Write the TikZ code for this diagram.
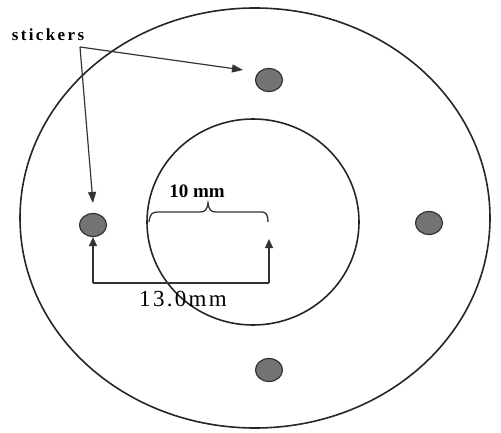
\documentclass[tikz,border=0pt]{standalone}
\usepackage{fontspec}
\setmainfont{Liberation Serif}
\usetikzlibrary{arrows.meta,shapes.geometric}
\begin{document}
\begin{tikzpicture}[x=1pt,y=-1pt,
  ring/.style={draw=black!85,line width=1.6pt},
  sticker/.style={ellipse,draw=black!80,line width=1.2pt,fill=black!55,minimum width=27pt,minimum height=23pt,inner sep=0pt},
  pointer/.style={draw=black!80,line width=1.2pt,-{Triangle[length=11pt,width=8pt]}},
  dimline/.style={draw=black!80,line width=1.3pt},
  dimarrow/.style={dimline,-{Triangle[length=9pt,width=8pt]}}]
\useasboundingbox (0,0) rectangle (501,433);
% rings
\draw[ring] (255,218) ellipse [x radius=235, y radius=210];
\draw[ring] (253,222) ellipse [x radius=106, y radius=103];
% stickers
\node[sticker] (top) at (269,80) {};
\node[sticker] (left) at (93,225) {};
\node[sticker] (right) at (429,223) {};
\node[sticker] (bottom) at (269,370) {};
% label
\node[font=\bfseries\fontsize{17}{17}\selectfont\addfontfeatures{LetterSpace=14}] (lab) at (48,35) {stickers};
\coordinate (src) at (80,47);
\coordinate (toptip) at (243,70);
\coordinate (lefttip) at (93,203);
\draw[pointer] (src) -- (toptip);
\draw[pointer] (src) -- (lefttip);
% 13.0 mm dimension
\coordinate (dl) at (93,283);
\coordinate (dr) at (269,283);
\coordinate (ctr) at (269,239);
\draw[dimline] (dl) -- (dr);
\draw[dimarrow] (dl) -- (left.south);
\draw[dimarrow] (dr) -- (ctr);
\node[font=\fontsize{23}{23}\selectfont\addfontfeatures{LetterSpace=10}] (d13) at (183,299) {13.0mm};
% 10 mm brace
\coordinate (bl) at (149,222);
\coordinate (br) at (268,222);
\draw[dimline] (bl) .. controls (150,214) and (152,212) .. (158,212)
  -- (200,212) .. controls (205,212) and (207,210) .. (208,203)
  .. controls (209,210) and (211,212) .. (216,212)
  -- (262,212) .. controls (266,212) and (268,215) .. (br);
\node[font=\bfseries\fontsize{19}{19}\selectfont] (d10) at (197,191) {10 mm};
\end{tikzpicture}
\end{document}
